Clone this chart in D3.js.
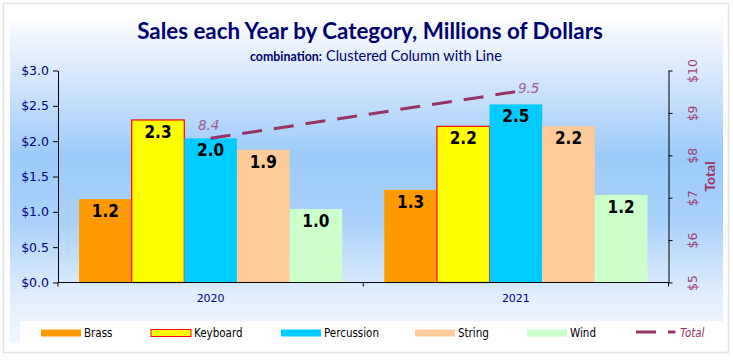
<!DOCTYPE html>
<html>
<head>
<meta charset="utf-8">
<script src="https://cdn.jsdelivr.net/npm/d3@7"></script>
<style>
html,body{margin:0;padding:0;background:#fff;}
svg{display:block;}
</style>
</head>
<body>
<script>
// ---- data ----
const years = ["2020", "2021"];
const categories = ["Brass", "Keyboard", "Percussion", "String", "Wind"];
const brass = [1.18, 1.31];
const keyboard = [2.30, 2.21];
const percussion = [2.04, 2.52];
const string = [1.88, 2.21];
const wind = [1.04, 1.24];
const totals = [8.4, 9.5];
const leftTicks = [0, 0.5, 1.0, 1.5, 2.0, 2.5, 3.0];
const rightTicks = [5, 6, 7, 8, 9, 10];
const titleText = "Sales each Year by Category, Millions of Dollars";
const subBold = "combination:";
const subText = "Clustered Column with Line";

const seriesValues = [brass, keyboard, percussion, string, wind];
const fills = ["#ff9900", "#ffff00", "#00ccff", "#ffcc99", "#ccffcc"];
const strokes = [null, "#ff0000", null, null, null];
const lineColor = "#993366";

const W = 733, H = 360;
const svg = d3.select("body").append("svg").attr("width", W).attr("height", H);

// background
svg.append("rect").attr("x", 0).attr("y", 0).attr("width", W).attr("height", H).attr("fill", "#fff");
svg.append("rect").attr("x", 3.5).attr("y", 3.5).attr("width", 725).attr("height", 349)
  .attr("fill", "none").attr("stroke", "#e3e3e3").attr("stroke-width", 1.5);

const defs = svg.append("defs");
const grad = defs.append("linearGradient").attr("id", "bg").attr("x1", 0).attr("y1", 0).attr("x2", 0).attr("y2", 1);
[[0, "#fcfdff"], [0.15, "#dceafc"], [0.42, "#9ccbf9"], [0.62, "#a9d1fa"], [0.85, "#e0edfc"], [1, "#f3f8ff"]]
  .forEach(([o, c]) => grad.append("stop").attr("offset", o).attr("stop-color", c));
svg.append("rect").attr("x", 10).attr("y", 20).attr("width", 713).attr("height", 323).attr("fill", "url(#bg)");
svg.append("rect").attr("x", 20).attr("y", 321).attr("width", 704).attr("height", 26).attr("fill", "#fff");

// plot geometry
const pl = 58, pr = 668.5, pt = 70.5, pb = 282.5;

const x0 = d3.scaleBand().domain(years).range([pl, pr]).paddingInner(0).paddingOuter(0);
const x1 = d3.scaleBand().domain(categories).range([0, x0.bandwidth()]).paddingOuter(0.4).paddingInner(0);
const y = d3.scaleLinear().domain([0, 3]).range([pb, pt]);
const y2 = d3.scaleLinear().domain([5, 10]).range([pb, pt]);

// bars
const g = svg.append("g");
years.forEach((yr, i) => {
  categories.forEach((c, j) => {
    const v = seriesValues[j][i];
    const bx = x0(yr) + x1(c);
    const r = g.append("rect")
      .attr("x", bx).attr("y", y(v))
      .attr("width", x1.bandwidth()).attr("height", y(0) - y(v))
      .attr("fill", fills[j]);
    if (strokes[j]) r.attr("stroke", strokes[j]).attr("stroke-width", 1.2);
  });
});
// bar labels
years.forEach((yr, i) => {
  categories.forEach((c, j) => {
    const v = seriesValues[j][i];
    g.append("text")
      .attr("x", x0(yr) + x1(c) + x1.bandwidth() / 2)
      .attr("y", y(v) + 18)
      .attr("text-anchor", "middle")
      .attr("font-family", "'DejaVu Sans Condensed', 'DejaVu Sans', sans-serif")
      .attr("font-weight", "bold")
      .attr("font-size", 17)
      .attr("fill", "#000")
      .text(d3.format(".1f")(v));
  });
});

// axes
const axisFont = "'DejaVu Sans', sans-serif";
const leftAxis = svg.append("g").attr("transform", `translate(${pl},0)`)
  .call(d3.axisLeft(y).tickValues(leftTicks).tickSize(5).tickSizeOuter(0).tickFormat(d => "$" + d3.format(".1f")(d)));
leftAxis.selectAll("path,line").attr("stroke", "#000");
leftAxis.selectAll("text").attr("font-family", axisFont).attr("font-size", 12.5).attr("fill", "#000080").attr("dx", -1);

const rightAxis = svg.append("g").attr("transform", `translate(${pr},0)`)
  .call(d3.axisRight(y2).tickValues(rightTicks).tickSize(4).tickSizeOuter(0).tickFormat(d => "$" + d));
rightAxis.selectAll("path,line").attr("stroke", "#000");
rightAxis.selectAll("text")
  .attr("font-family", axisFont).attr("font-size", 12.5).attr("fill", "#a0407a")
  .attr("text-anchor", "middle").attr("x", 0).attr("dy", 0)
  .attr("transform", "translate(24,0) rotate(-90)")
  .attr("y", 4);

const bottomAxis = svg.append("g").attr("transform", `translate(0,${pb})`)
  .call(d3.axisBottom(x0).tickSize(0).tickSizeOuter(0));
bottomAxis.select("path").attr("stroke", "#000").attr("d", `M${pl},0H${pr}`);
bottomAxis.selectAll("text").attr("font-family", axisFont).attr("font-size", 11).attr("fill", "#00008c").attr("y", 16).attr("dy", "0.32em");
// category boundary ticks
const bounds = [pl, x0(years[1]), pr];
svg.append("g").selectAll("line").data(bounds).join("line")
  .attr("x1", d => d).attr("x2", d => d).attr("y1", pb).attr("y2", pb + 4).attr("stroke", "#000");

// right axis title
svg.append("text")
  .attr("transform", `translate(715,${(pt + pb) / 2}) rotate(-90)`)
  .attr("text-anchor", "middle")
  .attr("font-family", "Lato, sans-serif").attr("font-weight", "bold").attr("font-size", 14)
  .attr("fill", "#993366").text("Total");

// total line
const cx = d => x0(d) + x0.bandwidth() / 2;
const line = d3.line().x((d, i) => cx(years[i])).y(d => y2(d));
svg.append("path").datum(totals).attr("d", line)
  .attr("fill", "none").attr("stroke", lineColor).attr("stroke-width", 3)
  .attr("stroke-dasharray", "20,12");
// total labels
const lblFont = "'DejaVu Sans', sans-serif";
svg.append("text").attr("x", cx(years[0]) - 2).attr("y", y2(totals[0]) - 8)
  .attr("text-anchor", "middle").attr("font-family", lblFont).attr("font-style", "italic")
  .attr("font-size", 13.5).attr("fill", "#9a5f94").text(d3.format(".1f")(totals[0]));
svg.append("text").attr("x", cx(years[1]) + 2).attr("y", y2(totals[1]) + 1)
  .attr("text-anchor", "start").attr("font-family", lblFont).attr("font-style", "italic")
  .attr("font-size", 13.5).attr("fill", "#9a5f94").text(d3.format(".1f")(totals[1]));

// title
function fit(sel, width) {
  const n = sel.node();
  const w = n.getComputedTextLength();
  const fs = parseFloat(sel.attr("font-size"));
  sel.attr("font-size", fs * width / w);
}
const title = svg.append("text").attr("x", 370).attr("y", 39).attr("text-anchor", "middle")
  .attr("font-family", "Lato, sans-serif").attr("font-weight", "bold").attr("font-size", 22)
  .attr("fill", "#000070").text(titleText);
fit(title, 466);

const sub1 = svg.append("text").attr("x", 250).attr("y", 61)
  .attr("font-family", "Lato, sans-serif").attr("font-weight", "bold").attr("font-size", 11)
  .attr("fill", "#000070").text(subBold);
fit(sub1, 72);
const sub2 = svg.append("text").attr("x", 326).attr("y", 61)
  .attr("font-family", "Lato, sans-serif").attr("font-size", 13.5)
  .attr("fill", "#000070").text(subText);
fit(sub2, 176);

// legend
const legItems = categories.map((c, j) => ({ name: c, fill: fills[j], stroke: strokes[j] }));
const legX = [41, 151, 281, 415, 527];
const legY = 333;
const leg = svg.append("g");
legItems.forEach((d, i) => {
  const r = leg.append("rect").attr("x", legX[i]).attr("y", legY - 3.5).attr("width", 40).attr("height", 7).attr("fill", d.fill);
  if (d.stroke) r.attr("stroke", d.stroke).attr("stroke-width", 1);
  leg.append("text").attr("x", legX[i] + 43).attr("y", legY).attr("dy", "0.35em")
    .attr("font-family", "'DejaVu Sans Condensed', sans-serif").attr("font-size", 11.5).attr("fill", "#000").text(d.name);
});
leg.append("line").attr("x1", 636).attr("x2", 675.5).attr("y1", legY - 1).attr("y2", legY - 1)
  .attr("stroke", lineColor).attr("stroke-width", 3).attr("stroke-dasharray", "20,12");
leg.append("text").attr("x", 680).attr("y", legY).attr("dy", "0.35em")
  .attr("font-family", "'DejaVu Sans Condensed', sans-serif").attr("font-style", "italic").attr("font-size", 11.5)
  .attr("fill", "#993366").text("Total");
</script>
</body>
</html>
